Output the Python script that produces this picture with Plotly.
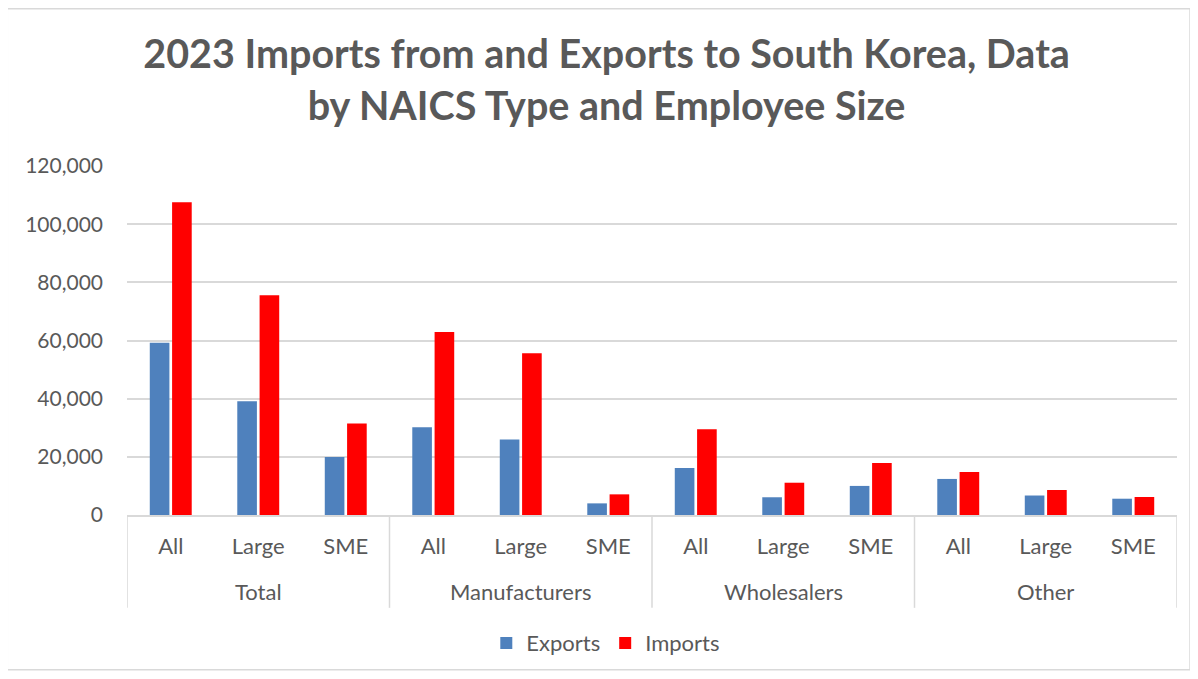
import plotly.graph_objects as go

groups = ["Total", "Manufacturers", "Wholesalers", "Other"]
sizes = ["All", "Large", "SME"]
exports = [59200, 39100, 19900, 30200, 26000, 4000, 16200, 6100, 10000, 12400, 6700, 5600]
imports = [107500, 75600, 31500, 62900, 55600, 7100, 29500, 11100, 17900, 14800, 8600, 6200]
y_ticks = [0, 20000, 40000, 60000, 80000, 100000, 120000]

cats = [f"{g}|{s}" for g in groups for s in sizes]
tick_text = [s for _ in groups for s in sizes]
n_sub = len(sizes)

fig = go.Figure()
fig.add_trace(go.Bar(x=cats, y=exports, name="Exports",
                     marker=dict(color="#4F81BD", line=dict(width=0))))
fig.add_trace(go.Bar(x=cats, y=imports, name="Imports",
                     marker=dict(color="#FF0000", line=dict(width=0))))

txt = "#595959"
grid = "#D9D9D9"
fig.update_layout(
    width=1190, height=671,
    margin=dict(l=119, r=21, t=158, b=164),
    paper_bgcolor="white", plot_bgcolor="white",
    barmode="group", bargap=0.49, bargroupgap=0.12,
    font=dict(family="Lato", color=txt, size=22),
    title=dict(text="2023 Imports from and Exports to South Korea, Data<br>by NAICS Type and Employee Size",
               x=0.503, xanchor="center", y=0.910, yanchor="top", yref="container",
               font=dict(family="Lato", size=39.5, color=txt, weight="bold")),
    legend=dict(orientation="h", x=0.456, xanchor="center", y=-0.367, yanchor="middle",
                font=dict(size=22, color=txt), traceorder="normal"),
    showlegend=True,
)
fig.update_yaxes(range=[0, 120000], tickvals=y_ticks, tickformat=",", showgrid=True,
                 gridcolor=grid, gridwidth=1.5, zeroline=False, showline=False, automargin=False,
                 ticks="", ticklabelstandoff=23, tickfont=dict(size=21, color=txt))
fig.update_xaxes(type="category", categoryorder="array", categoryarray=cats,
                 tickvals=cats, ticktext=tick_text, range=[-0.5, len(cats) - 0.5],
                 showline=True, linecolor=grid, linewidth=1.5, showgrid=False, automargin=False,
                 ticks="", ticklabelstandoff=11, tickfont=dict(size=22, color=txt))

# group dividers and group labels (derived from category indices)
for gi, g in enumerate(groups):
    start = gi * n_sub - 0.5
    fig.add_shape(type="line", xref="x", yref="paper", x0=start, x1=start, y0=0, y1=-0.266,
                  line=dict(color=grid, width=1.5))
    fig.add_annotation(x=gi * n_sub + (n_sub - 1) / 2, xref="x", y=-0.22, yref="paper",
                       text=g, showarrow=False, yanchor="middle",
                       font=dict(size=22, color=txt))
end = len(cats) - 0.5
fig.add_shape(type="line", xref="x", yref="paper", x0=end, x1=end, y0=0, y1=-0.266,
              line=dict(color=grid, width=1.5))

fig.add_shape(type="rect", xref="paper", yref="paper", x0=-0.114, x1=1.0124, y0=-0.4437, y1=1.4506,
              line=dict(color=grid, width=1.5), fillcolor="rgba(0,0,0,0)", layer="below")

fig.write_html("out.html")
